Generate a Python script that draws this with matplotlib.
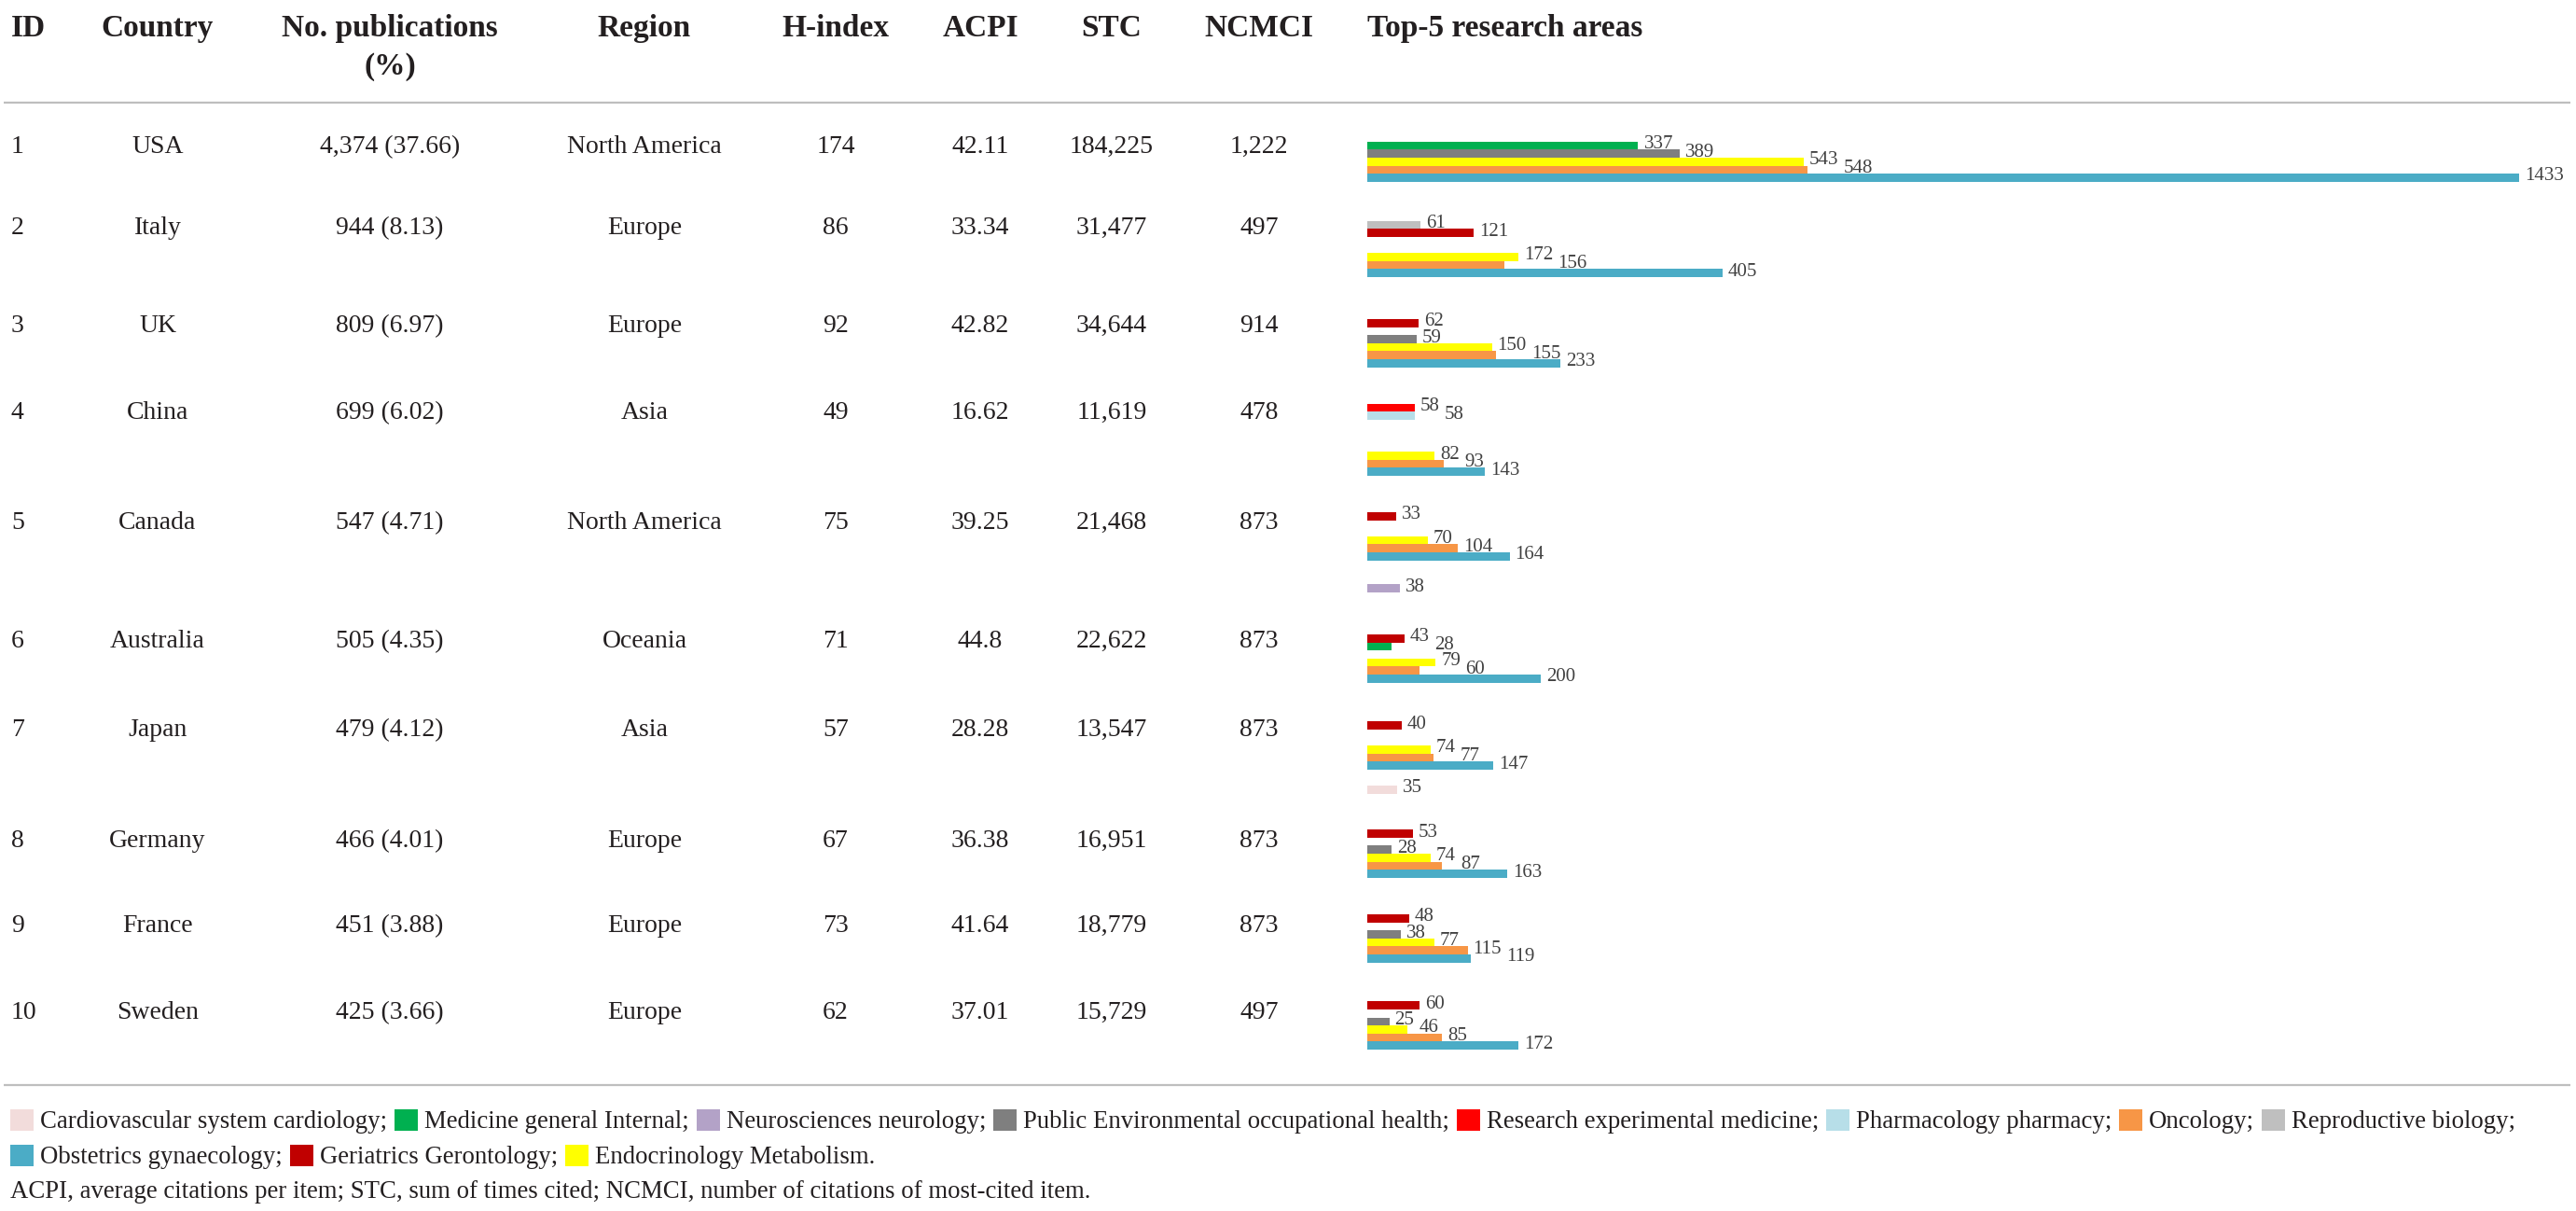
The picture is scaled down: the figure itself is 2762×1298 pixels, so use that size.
import matplotlib as mpl
import matplotlib.pyplot as plt
from matplotlib.patches import Rectangle

mpl.rcParams['font.family'] = ['Liberation Serif', 'DejaVu Serif']

W, H = 2762, 1298
DPI = 100

##########################################################################################
# table data
ids = [1, 2, 3, 4, 5, 6, 7, 8, 9, 10]
countries = ['USA', 'Italy', 'UK', 'China', 'Canada', 'Australia', 'Japan',
             'Germany', 'France', 'Sweden']
pub_counts = [4374, 944, 809, 699, 547, 505, 479, 466, 451, 425]
pub_pct = [37.66, 8.13, 6.97, 6.02, 4.71, 4.35, 4.12, 4.01, 3.88, 3.66]
regions = ['North America', 'Europe', 'Europe', 'Asia', 'North America', 'Oceania',
           'Asia', 'Europe', 'Europe', 'Europe']
h_index = [174, 86, 92, 49, 75, 71, 57, 67, 73, 62]
acpi = [42.11, 33.34, 42.82, 16.62, 39.25, 44.8, 28.28, 36.38, 41.64, 37.01]
stc = [184225, 31477, 34644, 11619, 21468, 22622, 13547, 16951, 18779, 15729]
ncmci = [1222, 497, 914, 478, 873, 873, 873, 873, 873, 497]

headers = ['ID', 'Country', 'No. publications\n(%)', 'Region', 'H-index', 'ACPI',
           'STC', 'NCMCI', 'Top-5 research areas']

# research areas (legend order)
area_keys = ['cardio', 'medicine', 'neuro', 'public', 'research', 'pharma', 'onco',
             'repro', 'obst', 'geri', 'endo']
area_labels = {'cardio': 'Cardiovascular system cardiology',
               'medicine': 'Medicine general Internal',
               'neuro': 'Neurosciences neurology',
               'public': 'Public Environmental occupational health',
               'research': 'Research experimental medicine',
               'pharma': 'Pharmacology pharmacy',
               'onco': 'Oncology',
               'repro': 'Reproductive biology',
               'obst': 'Obstetrics gynaecology',
               'geri': 'Geriatrics Gerontology',
               'endo': 'Endocrinology Metabolism'}

# bar slots per country, top to bottom (None = empty slot in the source chart)
top_areas = [
    [('medicine', 337), ('public', 389), ('endo', 543), ('onco', 548), ('obst', 1433)],
    [('repro', 61), ('geri', 121), None, None, ('endo', 172), ('onco', 156), ('obst', 405)],
    [('geri', 62), None, ('public', 59), ('endo', 150), ('onco', 155), ('obst', 233)],
    [('research', 58), ('pharma', 58), None, None, None, None, ('endo', 82), ('onco', 93),
     ('obst', 143)],
    [('geri', 33), None, None, ('endo', 70), ('onco', 104), ('obst', 164), None, None, None,
     ('neuro', 38)],
    [('geri', 43), ('medicine', 28), None, ('endo', 79), ('onco', 60), ('obst', 200)],
    [('geri', 40), None, None, ('endo', 74), ('onco', 77), ('obst', 147), None, None,
     ('cardio', 35)],
    [('geri', 53), None, ('public', 28), ('endo', 74), ('onco', 87), ('obst', 163)],
    [('geri', 48), None, ('public', 38), ('endo', 77), ('onco', 115), ('obst', 119)],
    [('geri', 60), None, ('public', 25), ('endo', 46), ('onco', 85), ('obst', 172)],
]

footnote = ('ACPI, average citations per item; STC, sum of times cited; NCMCI, '
            'number of citations of most-cited item.')

##########################################################################################
# style / layout (pixels)
area_colors = {'cardio': '#F2DCDB', 'medicine': '#00B050', 'neuro': '#B3A2C7',
               'public': '#7F7F7F', 'research': '#FF0000', 'pharma': '#B7DEE8',
               'onco': '#F79646', 'repro': '#BFBFBF', 'obst': '#4BACC6',
               'geri': '#C00000', 'endo': '#FFFF00'}
txtColor = '#231F20'
lblColor = '#404040'
ruleColor = '#BEBEBE'

fsHead = 24
fsBody = 20
fsLegend = 19.3
fsLabel = 15

col_x = [12, 169, 418, 691, 896, 1051, 1192, 1350]
col_ha = ['left', 'center', 'center', 'center', 'center', 'center', 'center', 'center']
head_base = 39
head_line = 41
rule_top = 110
rule_bottom = 1163

row_text_y = [155, 242, 347, 440, 558, 685, 780, 899, 990, 1083]
row_bar_top = [151.7, 236.7, 342, 432.7, 549, 680, 773.3, 889.3, 980, 1073.3]
px_per_unit = [0.862, 0.94, 0.89, 0.88, 0.93, 0.93, 0.92, 0.92, 0.935, 0.94]
bar_x0 = 1466
bar_w = 1240
slot_h = 8.6

##########################################################################################
fig = plt.figure(figsize=(W / DPI, H / DPI), dpi=DPI)
fig.patch.set_facecolor('white')
ax = fig.add_axes([0, 0, 1, 1])
ax.set_xlim(0, W)
ax.set_ylim(H, 0)
ax.axis('off')

renderer = fig.canvas.get_renderer()

# header
for i, h in enumerate(headers):
    if i < len(col_x):
        x, ha = col_x[i], col_ha[i]
    else:
        x, ha = bar_x0, 'left'
    for k, line in enumerate(h.split('\n')):
        ax.text(x, head_base + k * head_line, line, ha=ha, va='baseline',
                fontsize=fsHead, fontweight='bold', color=txtColor)

ax.plot([4, W - 6], [rule_top, rule_top], color=ruleColor, lw=1.6, solid_capstyle='butt')
ax.plot([4, W - 6], [rule_bottom, rule_bottom], color=ruleColor, lw=1.6,
        solid_capstyle='butt')

# table body
capHalf = 0.662 * fsBody * DPI / 72.0 / 2.0
for r in range(len(ids)):
    cells = [str(ids[r]), countries[r], '{:,} ({:.2f})'.format(pub_counts[r], pub_pct[r]),
             regions[r], str(h_index[r]), str(acpi[r]), '{:,}'.format(stc[r]),
             '{:,}'.format(ncmci[r])]
    for c, s in enumerate(cells):
        ax.text(col_x[c], row_text_y[r] + capHalf, s, ha=col_ha[c], va='baseline',
                fontsize=fsBody, color=txtColor)

# bar charts, one small axes per country
digitH = 0.68 * fsLabel * DPI / 72.0
for r, slots in enumerate(top_areas):
    n = len(slots)
    top = row_bar_top[r]
    hgt = n * slot_h
    bax = fig.add_axes([bar_x0 / W, 1 - (top + hgt) / H, bar_w / W, hgt / H])
    bax.set_xlim(0, bar_w / px_per_unit[r])
    bax.set_ylim(n - 0.5, -0.5)
    bax.axis('off')
    placed = []
    for j, item in enumerate(slots):
        if item is None:
            continue
        key, val = item
        bax.barh(j, val, height=1.0, color=area_colors[key], linewidth=0)
        t = bax.annotate(str(val), xy=(val, j), xytext=(6, 4 - digitH / 2),
                         textcoords='offset pixels', ha='left', va='baseline',
                         fontsize=fsLabel, color=lblColor, annotation_clip=False)
        bb = t.get_window_extent(renderer)
        yc = bax.transData.transform((val, j))[1] + 4
        x0, x1 = bb.x0, bb.x1
        dx = 6
        # nudge a label right when it would sit on top of the one just above
        for (px0, px1, pyc) in placed:
            if abs(yc - pyc) < 13 and x0 < px1 + 2 and x1 > px0 - 2:
                shift = px1 + 5 - x0
                dx += shift
                x0 += shift
                x1 += shift
        t.xyann = (dx, 4 - digitH / 2)
        placed.append((x0, x1, yc))

# legend
capHalfL = 0.662 * fsLegend * DPI / 72.0 / 2.0
leg_rows = [area_keys[:8], area_keys[8:]]
leg_y = [1200, 1238]
patch_w, patch_h = 25, 23
for li, keys in enumerate(leg_rows):
    x = 11
    y = leg_y[li]
    for k, key in enumerate(keys):
        ax.add_patch(Rectangle((x, y - patch_h / 2), patch_w, patch_h,
                               facecolor=area_colors[key], edgecolor='none'))
        x += patch_w + 7
        end = '.' if (li == len(leg_rows) - 1 and k == len(keys) - 1) else ';'
        t = ax.text(x, y + capHalfL, area_labels[key] + end, ha='left', va='baseline',
                    fontsize=fsLegend, color=txtColor)
        bb = t.get_window_extent(renderer)
        x += bb.width + 8

ax.text(11, 1275 + capHalfL, footnote, ha='left', va='baseline', fontsize=fsLegend,
        color=txtColor)

fig.savefig('out.png', dpi=DPI, facecolor='white')
plt.close(fig)
